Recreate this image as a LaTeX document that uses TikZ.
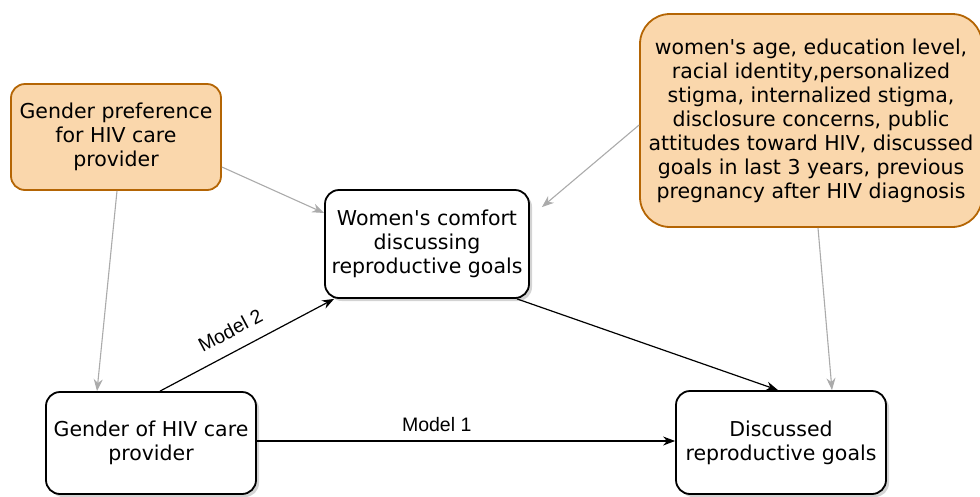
\documentclass[tikz,border=0pt]{standalone}
\usepackage{fontspec}
\setmainfont{DejaVu Sans}
\newfontfamily\labelfont{Liberation Sans}
\usetikzlibrary{arrows.meta,shadows,calc}
\definecolor{factorfill}{HTML}{FAD7AC}
\definecolor{factorline}{HTML}{B46504}
\definecolor{softgray}{HTML}{ABABAB}
\newcommand{\apos}{\textquotesingle}
\begin{document}
\begin{tikzpicture}[x=1pt,y=-1pt,
  txt/.style={font=\fontsize{20.5}{24}\selectfont, align=center, inner sep=0pt},
  factorbox/.style={txt, draw=factorline, line width=1.8pt, fill=factorfill, rounded corners=14pt},
  varbox/.style={txt, draw=black, line width=1.8pt, fill=white, rounded corners=14pt,
    drop shadow={shadow xshift=3pt, shadow yshift=-3pt, opacity=0.35, fill=gray}},
  mainarrow/.style={draw=black, line width=1.2pt, -{Stealth[length=12pt,width=9pt]}},
  sidearrow/.style={draw=softgray, line width=1.1pt, -{Stealth[length=12pt,width=9pt]}},
  modellabel/.style={font=\labelfont\fontsize{19.5}{22}\selectfont, inner sep=0pt}
]
\useasboundingbox (0,0) rectangle (980,496);

% confounders and preferences
\node[factorbox, minimum width=210pt, minimum height=106pt] (pref) at (116,137)
  {Gender preference\\for HIV care\\provider};
\node[factorbox, rounded corners=30pt, minimum width=342pt, minimum height=213pt] (cov) at (811,120.5)
  {women\apos s age, education level,\\racial identity,personalized\\stigma, internalized stigma,\\disclosure concerns, public\\attitudes toward HIV, discussed\\goals in last 3 years, previous\\pregnancy after HIV diagnosis};

% model variables
\node[varbox, minimum width=204pt, minimum height=108pt] (comfort) at (427,244)
  {Women\apos s comfort\\discussing\\reproductive goals};
\node[varbox, minimum width=210pt, minimum height=102pt] (gender) at (151,443)
  {Gender of HIV care\\provider};
\node[varbox, minimum width=210pt, minimum height=103pt] (disc) at (781,442.5)
  {Discussed\\reproductive goals};

% adjustment paths
\draw[sidearrow] ([yshift=-30pt]pref.east) -- ([yshift=31pt]comfort.west);
\draw[sidearrow] ([yshift=-4.5pt]cov.west) -- ([xshift=12pt,yshift=-18pt]comfort.north east);
\draw[sidearrow] ([xshift=7pt]cov.south) -- ([xshift=51pt]disc.north);
\draw[sidearrow] ([xshift=1pt]pref.south) -- ([xshift=-54pt]gender.north);

% model paths
\draw[mainarrow] ([xshift=9pt]gender.north) -- node[modellabel, sloped, above=13pt, pos=0.46] {Model 2} ([xshift=10pt]comfort.south west);
\draw[mainarrow] ([xshift=90pt]comfort.south) -- ([xshift=-3pt]disc.north);
\draw[mainarrow] ([yshift=2pt]gender.east) -- node[modellabel, above=9pt, pos=0.43] {Model 1} ([yshift=2pt]gender.east -| disc.west);
\end{tikzpicture}
\end{document}
